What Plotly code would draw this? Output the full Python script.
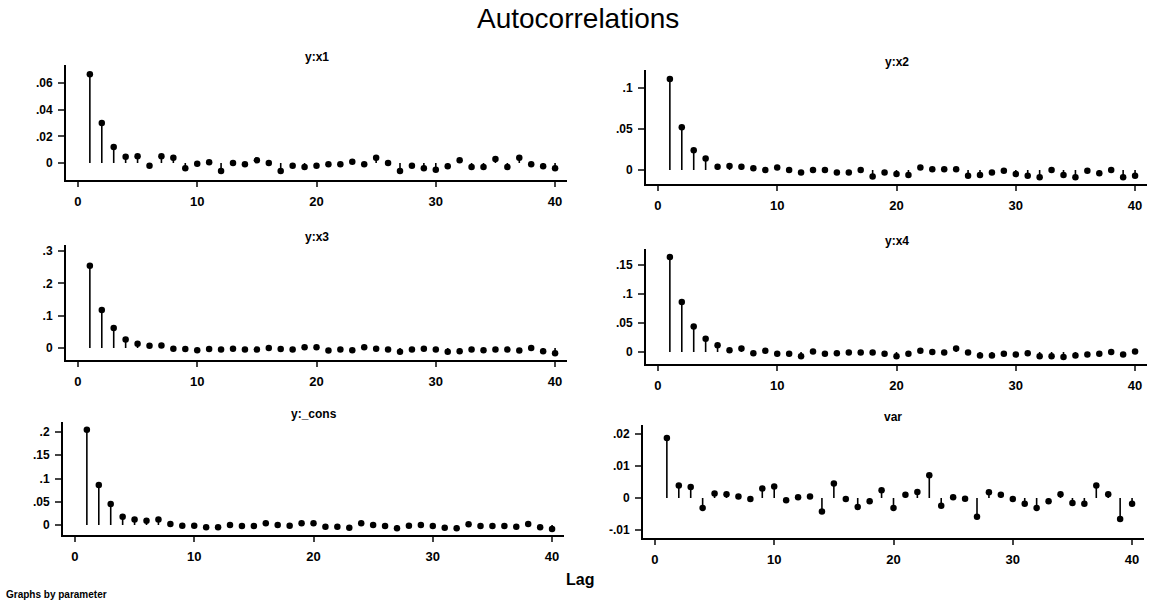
import plotly.graph_objects as go

W, H = 1153, 604

lags = list(range(1, 41))

acf_x1 = [0.0665, 0.030, 0.012, 0.0046, 0.005, -0.002, 0.005, 0.004, -0.004, -0.0005,
          0.0005, -0.006, 0.0, -0.001, 0.002, 0.0, -0.006, -0.002, -0.003, -0.002,
          -0.001, -0.001, 0.001, -0.001, 0.004, 0.0, -0.006, -0.002, -0.004, -0.005,
          -0.0025, 0.002, -0.003, -0.003, 0.003, -0.003, 0.004, -0.001, -0.0025, -0.004]
acf_x2 = [0.111, 0.052, 0.024, 0.014, 0.004, 0.005, 0.004, 0.002, 0.0, 0.003,
          0.0, -0.003, 0.0, 0.0, -0.003, -0.003, 0.0, -0.008, -0.003, -0.005,
          -0.006, 0.003, 0.001, 0.001, 0.001, -0.007, -0.006, -0.003, -0.001, -0.005,
          -0.007, -0.009, 0.0, -0.006, -0.009, -0.001, -0.004, 0.0, -0.009, -0.007]
acf_x3 = [0.255, 0.118, 0.062, 0.026, 0.0135, 0.007, 0.008, -0.002, -0.003, -0.007,
          -0.003, -0.005, -0.002, -0.005, -0.005, 0.0, -0.003, -0.005, 0.002, 0.002,
          -0.008, -0.005, -0.007, 0.002, -0.002, -0.005, -0.012, -0.005, -0.002, -0.005,
          -0.012, -0.010, -0.005, -0.007, -0.005, -0.005, -0.008, 0.0, -0.010, -0.016]
acf_x4 = [0.164, 0.086, 0.044, 0.023, 0.0115, 0.003, 0.006, -0.002, 0.002, -0.003,
          -0.003, -0.0075, 0.001, -0.003, -0.002, -0.001, -0.001, -0.001, -0.003, -0.0075,
          -0.003, 0.002, 0.0, -0.001, 0.006, -0.001, -0.006, -0.006, -0.003, -0.0045,
          -0.002, -0.0075, -0.0075, -0.0085, -0.006, -0.0045, -0.003, 0.0, -0.0045, 0.001]
acf_cons = [0.205, 0.086, 0.045, 0.018, 0.012, 0.009, 0.012, 0.002, -0.0015, -0.0015,
            -0.005, -0.005, 0.0, -0.002, -0.002, 0.0035, 0.0, -0.0015, 0.0035, 0.0035,
            -0.0035, -0.0035, -0.006, 0.0035, 0.0, -0.002, -0.007, -0.0015, 0.0, -0.002,
            -0.006, -0.007, 0.0015, -0.002, -0.002, -0.002, -0.0035, 0.002, -0.005, -0.0085]
acf_var = [0.0187, 0.0039, 0.0034, -0.0031, 0.0014, 0.0012, 0.0005, -0.0003, 0.003, 0.0036,
           -0.0007, 0.0002, 0.0005, -0.0042, 0.0045, -0.0003, -0.0028, -0.001, 0.0024, -0.0031,
           0.001, 0.0019, 0.0071, -0.0024, 0.0002, -0.0002, -0.0059, 0.0018, 0.001, -0.0003,
           -0.0018, -0.0031, -0.001, 0.0012, -0.0016, -0.0018, 0.0039, 0.0012, -0.0066, -0.0018]

panel_titles = ["y:x1", "y:x2", "y:x3", "y:x4", "y:_cons", "var"]
series = [acf_x1, acf_x2, acf_x3, acf_x4, acf_cons, acf_var]

x_tickvals = [0, 10, 20, 30, 40]
y_tickvals = [
    [0, 0.02, 0.04, 0.06],
    [0, 0.05, 0.1],
    [0, 0.1, 0.2, 0.3],
    [0, 0.05, 0.1, 0.15],
    [0, 0.05, 0.1, 0.15, 0.2],
    [-0.01, 0, 0.01, 0.02],
]
y_ticktext = [
    ["0", ".02", ".04", ".06"],
    ["0", ".05", ".1"],
    ["0", ".1", ".2", ".3"],
    ["0", ".05", ".1", ".15"],
    ["0", ".05", ".1", ".15", ".2"],
    ["-.01", "0", ".01", ".02"],
]

# pixel boxes (x0, x1, ytop, ybottom) and y ranges
boxes = [
    (66, 567, 65, 180),
    (646, 1147, 70, 184),
    (66, 567, 245, 360),
    (646, 1147, 249, 364),
    (63, 564, 422, 535),
    (643, 1144, 425, 538),
]
y_ranges = [
    (-0.01275, 0.0735),
    (-0.0171, 0.122),
    (-0.0372, 0.3189),
    (-0.0207, 0.1776),
    (-0.0215, 0.2215),
    (-0.0125, 0.0228),
]
x_range = (-1, 41)

FONT = "Liberation Sans, Arial, Helvetica, sans-serif"

fig = go.Figure()
layout = dict(
    width=W, height=H,
    margin=dict(l=0, r=0, t=0, b=0),
    paper_bgcolor="white", plot_bgcolor="white",
    showlegend=False,
    font=dict(family=FONT, color="black"),
)
annotations = []

for i, (vals, title) in enumerate(zip(series, panel_titles)):
    n = i + 1
    xa = "x" if n == 1 else f"x{n}"
    ya = "y" if n == 1 else f"y{n}"
    sx, sy = [], []
    for l, v in zip(lags, vals):
        sx += [l, l, None]
        sy += [0, v, None]
    fig.add_trace(go.Scatter(x=sx, y=sy, mode="lines", xaxis=xa, yaxis=ya,
                             line=dict(color="black", width=1.6), hoverinfo="skip"))
    fig.add_trace(go.Scatter(x=lags, y=vals, mode="markers", xaxis=xa, yaxis=ya,
                             marker=dict(color="black", size=6.5, symbol="circle")))
    x0, x1, yt, yb = boxes[i]
    xkey = "xaxis" if n == 1 else f"xaxis{n}"
    ykey = "yaxis" if n == 1 else f"yaxis{n}"
    layout[xkey] = dict(
        domain=[x0 / W, x1 / W], range=list(x_range), anchor=ya,
        tickvals=x_tickvals, ticks="outside", ticklen=5, tickwidth=2,
        showline=True, linecolor="black", linewidth=2,
        showgrid=False, zeroline=False, ticklabelstandoff=3,
        tickfont=dict(size=13, family=FONT, weight="bold", color="black"),
    )
    layout[ykey] = dict(
        domain=[1 - yb / H, 1 - yt / H], range=list(y_ranges[i]), anchor=xa,
        tickvals=y_tickvals[i], ticktext=y_ticktext[i], ticks="outside",
        ticklen=6, tickwidth=2,
        showline=True, linecolor="black", linewidth=2,
        showgrid=False, zeroline=False, ticklabelstandoff=3,
        tickfont=dict(size=12, family=FONT, weight="bold", color="black"),
    )
    annotations.append(dict(
        text=title, x=(x0 + x1) / 2 / W, y=1 - (yt - 8) / H,
        xref="paper", yref="paper", showarrow=False,
        xanchor="center", yanchor="middle",
        font=dict(size=12, family=FONT, weight="bold", color="black"),
    ))

annotations.append(dict(text="Autocorrelations", x=578 / W, y=1 - 19 / H,
                        xref="paper", yref="paper", showarrow=False,
                        xanchor="center", yanchor="middle",
                        font=dict(size=28, family=FONT, color="black")))
annotations.append(dict(text="Lag", x=580 / W, y=1 - 579 / H,
                        xref="paper", yref="paper", showarrow=False,
                        xanchor="center", yanchor="middle",
                        font=dict(size=16, family=FONT, weight="bold", color="black")))
annotations.append(dict(text="Graphs by parameter", x=4 / W, y=1 - 594 / H,
                        xref="paper", yref="paper", showarrow=False,
                        xanchor="left", yanchor="middle",
                        font=dict(size=10, family=FONT, weight="bold", color="black")))

layout["annotations"] = annotations
fig.update_layout(**layout)
fig.write_html("out.html")
